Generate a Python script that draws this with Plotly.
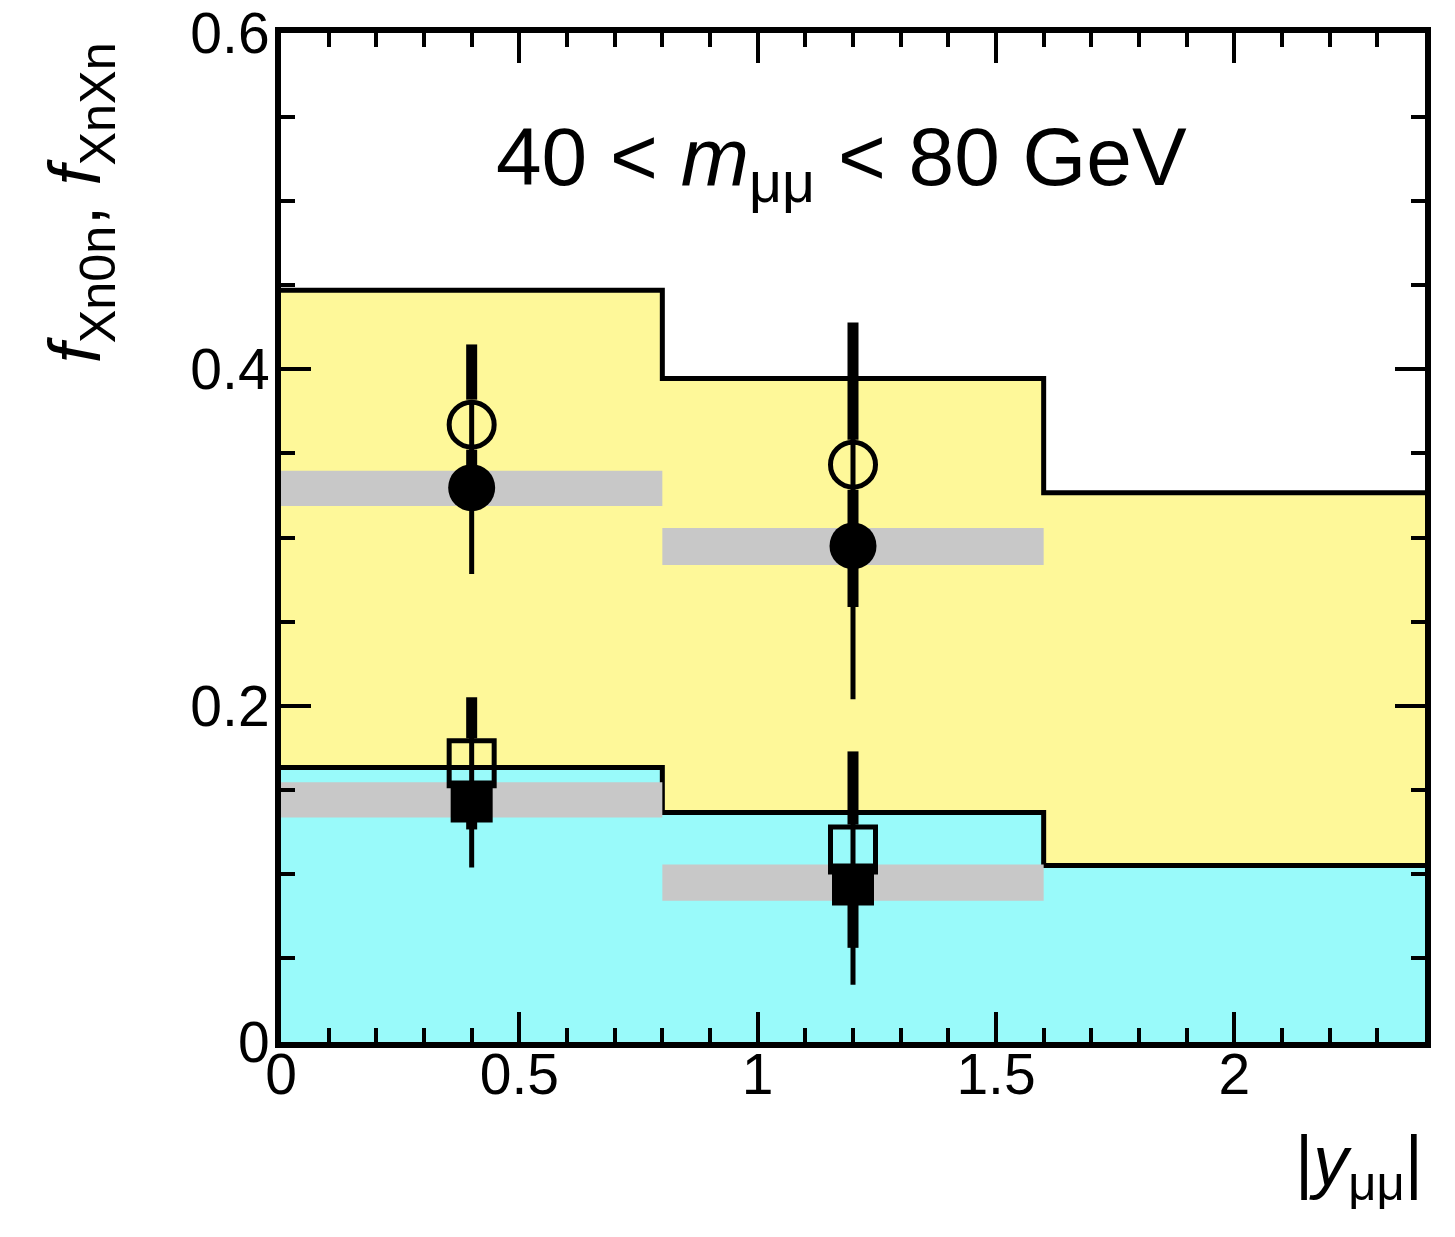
import plotly.graph_objects as go

# ---------------- data ----------------
bin_edges = [0.0, 0.8, 1.6, 2.4]
bin_centers = [0.4, 1.2]

# model predictions (histograms)
xn0n_model = [0.447, 0.3945, 0.3266]   # yellow
xnxn_model = [0.1633, 0.1365, 0.1049]  # cyan

# grey systematic bands
xn0n_band_lo = [0.3187, 0.2837]
xn0n_band_hi = [0.3397, 0.3057]
xnxn_band_lo = [0.1335, 0.0840]
xnxn_band_hi = [0.1544, 0.1055]

# open markers (thick error bars)
xn0n_open = [0.3671, 0.3433]
xn0n_open_err = [0.0477, 0.0846]
xnxn_open = [0.1657, 0.1144]
xnxn_open_err = [0.0393, 0.0584]

# filled markers (thin error bars)
xn0n_filled = [0.3296, 0.2950]
xn0n_filled_err = [0.0513, 0.0912]
xnxn_filled = [0.1430, 0.0936]
xnxn_filled_err = [0.0393, 0.0596]

x_tickvals = [0, 0.5, 1, 1.5, 2]
x_ticktext = ["0", "0.5", "1", "1.5", "2"]
y_tickvals = [0, 0.2, 0.4, 0.6]
y_ticktext = ["0", "0.2", "0.4", "0.6"]

# ---------------- style ----------------
W, H = 1455, 1237
ML, MR, MT, MB = 281, 30, 33, 195
YMAX = 0.6
FONT = "Liberation Sans, Arial, Helvetica, sans-serif"
YELLOW = "#fef899"
CYAN = "#99fafa"
GREY = "#c8c8c8"
OPEN_CIRCLE_SIZE, OPEN_SQUARE_SIZE, OPEN_LW = 45, 45, 5
FILLED_CIRCLE_SIZE, FILLED_SQUARE_SIZE = 47, 42
THICK, THIN = 11, 5

px_per_unit = (H - MT - MB) / YMAX

fig = go.Figure()


def step(vals):
    return list(vals) + [vals[-1]]


fig.add_trace(go.Scatter(x=bin_edges, y=step(xn0n_model), mode="lines",
                         line=dict(shape="hv", color="black", width=5),
                         fill="tozeroy", fillcolor=YELLOW, hoverinfo="skip"))
fig.add_trace(go.Scatter(x=bin_edges, y=step(xnxn_model), mode="lines",
                         line=dict(shape="hv", color="black", width=5),
                         fill="tozeroy", fillcolor=CYAN, hoverinfo="skip"))


def band(lo, hi):
    xs, ys = [], []
    for i in range(len(lo)):
        e0, e1 = bin_edges[i], bin_edges[i + 1]
        xs += [e0, e1, e1, e0, e0, None]
        ys += [lo[i], lo[i], hi[i], hi[i], lo[i], None]
    return xs, ys


for lo, hi in [(xn0n_band_lo, xn0n_band_hi), (xnxn_band_lo, xnxn_band_hi)]:
    bx, by = band(lo, hi)
    fig.add_trace(go.Scatter(x=bx, y=by, mode="lines", fill="toself",
                             fillcolor=GREY, line=dict(width=0, color=GREY),
                             hoverinfo="skip"))


def gapped_bars(vals, errs, outer_px):
    gap = (outer_px / 2) / px_per_unit
    xs, ys = [], []
    for xc, v, e in zip(bin_centers, vals, errs):
        xs += [xc, xc, None, xc, xc, None]
        ys += [v + e, v + gap, None, v - gap, v - e, None]
    return xs, ys


for vals, errs, size in [(xn0n_open, xn0n_open_err, OPEN_CIRCLE_SIZE),
                         (xnxn_open, xnxn_open_err, OPEN_SQUARE_SIZE)]:
    ex, ey = gapped_bars(vals, errs, size + OPEN_LW)
    fig.add_trace(go.Scatter(x=ex, y=ey, mode="lines",
                             line=dict(color="black", width=THICK),
                             hoverinfo="skip"))

for vals, errs, sym, size in [(xn0n_filled, xn0n_filled_err, "circle", FILLED_CIRCLE_SIZE),
                              (xnxn_filled, xnxn_filled_err, "square", FILLED_SQUARE_SIZE)]:
    fig.add_trace(go.Scatter(x=bin_centers, y=vals, mode="markers",
                             marker=dict(symbol=sym, size=size, color="black"),
                             error_y=dict(type="data", array=errs, thickness=THIN,
                                          width=0, color="black")))

for vals, sym, size in [(xn0n_open, "circle-open", OPEN_CIRCLE_SIZE),
                        (xnxn_open, "square-open", OPEN_SQUARE_SIZE)]:
    fig.add_trace(go.Scatter(x=bin_centers, y=vals, mode="markers",
                             marker=dict(symbol=sym, size=size, color="black",
                                         line=dict(width=OPEN_LW, color="black"))))

axis_common = dict(showline=True, linecolor="black", linewidth=6, mirror="ticks",
                   ticks="inside", ticklen=30, tickwidth=4, tickcolor="black",
                   showgrid=False, zeroline=False, ticklabeloverflow="allow",
                   automargin=False,
                   tickfont=dict(family=FONT, size=57, color="black"))

fig.update_xaxes(range=[0, 2.4], tickvals=x_tickvals, ticktext=x_ticktext,
                 ticklabelstandoff=-22,
                 minor=dict(ticks="inside", ticklen=14, tickwidth=4, dtick=0.1,
                            tickcolor="black", showgrid=False),
                 **axis_common)
fig.update_yaxes(range=[0, YMAX], tickvals=y_tickvals, ticktext=y_ticktext,
                 ticklabelstandoff=-6,
                 minor=dict(ticks="inside", ticklen=14, tickwidth=4, dtick=0.05,
                            tickcolor="black", showgrid=False),
                 **axis_common)

fig.update_layout(
    width=W, height=H, showlegend=False,
    margin=dict(l=ML, r=MR, t=MT, b=MB, pad=0, autoexpand=False),
    plot_bgcolor="white", paper_bgcolor="white",
    font=dict(family=FONT, color="black"),
    annotations=[
        dict(text="40 < <i>m</i><sub>μμ</sub> < 80 GeV", xref="paper", yref="paper",
             x=0.49, y=0.872, xanchor="center", yanchor="middle", showarrow=False,
             font=dict(family=FONT, size=82, color="black")),
        dict(text="<i>f</i><sub>Xn0n</sub>, <i>f</i><sub>XnXn</sub>", xref="paper", yref="paper",
             x=-0.175, y=0.832, xanchor="center", yanchor="middle", textangle=-90,
             showarrow=False, font=dict(family=FONT, size=72, color="black")),
        dict(text="|<i>y</i><sub>μμ</sub>|", xref="paper", yref="paper",
             x=1.0, y=-0.123, xanchor="right", yanchor="middle", showarrow=False,
             font=dict(family=FONT, size=70, color="black")),
    ],
)

fig.write_html("out.html")
